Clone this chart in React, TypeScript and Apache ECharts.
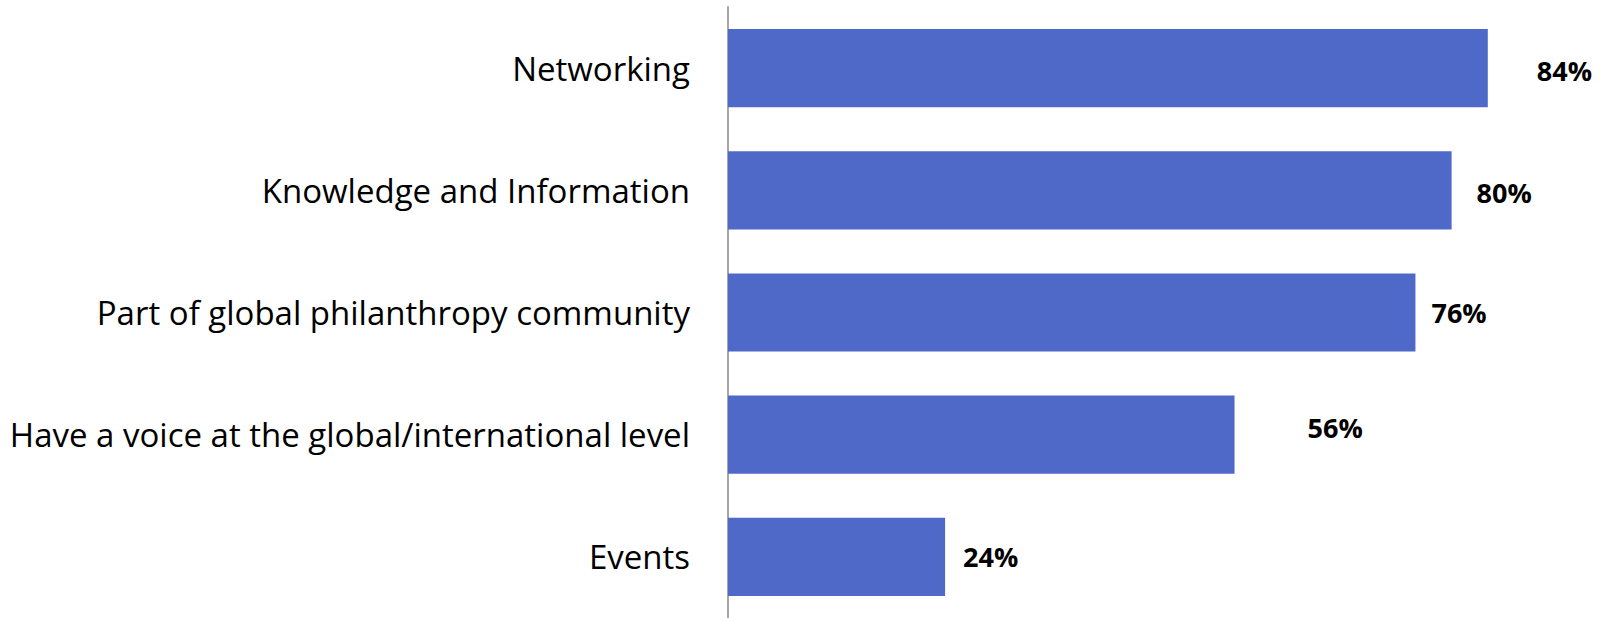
import React, { useEffect, useRef } from "react";
import * as echarts from "echarts";

const categories = [
  "Networking",
  "Knowledge and Information",
  "Part of global philanthropy community",
  "Have a voice at the global/international level",
  "Events",
];
const values = [84, 80, 76, 56, 24];

// label gap (px) to the right of each bar end, and vertical nudge
const labelGaps = [49, 25, 16, 73, 18];
const labelNudges = [2, 2, 0, -7, 0];

export default function App() {
  const ref = useRef<HTMLDivElement>(null);
  useEffect(() => {
    if (!ref.current) return;
    const chart = echarts.init(ref.current, null, { renderer: "svg" });
    const cats = [...categories].reverse();
    const vals = [...values].reverse();
    const gaps = [...labelGaps].reverse();
    const nudges = [...labelNudges].reverse();
    chart.setOption({
      animation: false,
      grid: { left: 728, top: 7, width: 859.3, height: 615, containLabel: false },
      xAxis: {
        type: "value",
        min: 0,
        max: 95,
        show: false,
      },
      yAxis: {
        type: "category",
        data: cats,
        axisLine: { show: true, lineStyle: { color: "#a6a6a6", width: 2 } },
        axisTick: { show: false },
        axisLabel: {
          margin: 38,
          color: "#000000",
          fontFamily: "Open Sans",
          fontSize: 33,
        },
      },
      series: [
        {
          type: "bar",
          data: vals.map((v, i) => ({
            value: v,
            label: {
              distance: gaps[i],
              offset: [0, nudges[i]],
            },
          })),
          barCategoryGap: "36%",
          itemStyle: { color: "#4f69c9" },
          label: {
            show: true,
            position: "right",
            formatter: "{c}%",
            color: "#000000",
            fontFamily: "Open Sans",
            fontWeight: "bold",
            fontSize: 27,
          },
        },
      ],
    });
    return () => chart.dispose();
  }, []);
  return (
    <div
      ref={ref}
      style={{ position: "absolute", left: 0, top: 0, width: 1607, height: 618, background: "#ffffff" }}
    />
  );
}
